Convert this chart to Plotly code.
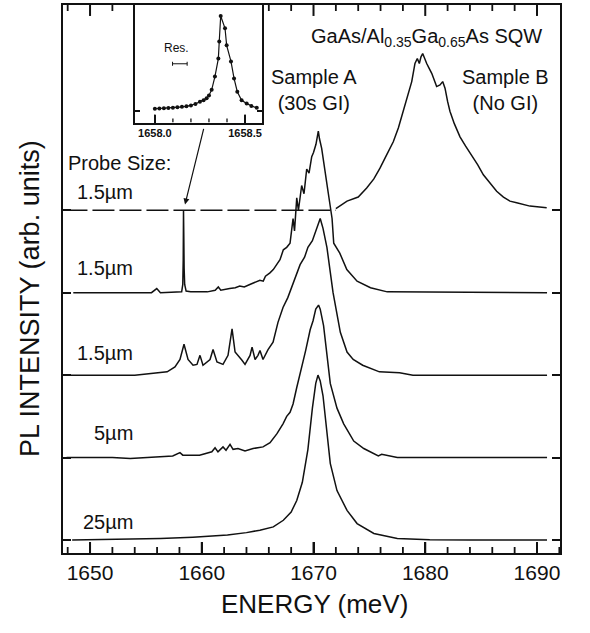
import plotly.graph_objects as go

FONT = "Liberation Sans, Arial, sans-serif"

# ---------------- data (energy in meV, intensity above each trace baseline, arb. units)
offsets = [0, 1, 2, 3, 4]
labels = ["25µm", "5µm", "1.5µm", "1.5µm", "1.5µm"]

e_25 = [1648.4, 1652.0, 1656.3, 1659.2, 1661.0, 1662.3, 1664.0, 1665.2, 1666.4, 1667.3, 1668.0,
        1668.5, 1669.0, 1669.5, 1669.9, 1670.2, 1670.4, 1670.6, 1670.85, 1671.1, 1671.5, 1672.1,
        1673.0, 1673.9, 1675.4, 1677.5, 1680.4, 1684.0, 1688.0, 1690.9]
h_25 = [0.0, 0.005, 0.02, 0.035, 0.045, 0.06, 0.09, 0.12, 0.16, 0.24, 0.34,
        0.48, 0.7, 1.1, 1.6, 1.9, 2.0, 1.93, 1.75, 1.4, 0.93, 0.6,
        0.36, 0.2, 0.08, 0.02, 0.005, 0.0, 0.0, 0.0]

e_5 = [1647.9, 1652.0, 1653.6, 1655.0, 1657.4, 1658.05, 1658.3, 1659.8, 1660.4, 1660.9, 1661.19,
       1661.45, 1661.9, 1662.17, 1662.53, 1662.8, 1663.24, 1663.87, 1664.59, 1665.48, 1666.11,
       1666.73, 1667.27, 1667.6, 1667.9, 1668.17, 1668.5, 1668.8, 1669.07, 1669.3, 1669.7, 1669.96,
       1670.2, 1670.45, 1670.6, 1670.9, 1671.2, 1671.5, 1672.1, 1672.7, 1673.6, 1674.5, 1675.8,
       1676.1, 1677.5, 1690.9]
h_5 = [0.0, 0.0, -0.012, 0.0, 0.02, 0.06, 0.03, 0.03, 0.05, 0.07, 0.12,
       0.07, 0.13, 0.09, 0.16, 0.1, 0.11, 0.08, 0.11, 0.13, 0.18,
       0.29, 0.41, 0.5, 0.55, 0.65, 0.85, 1.0, 1.17, 1.3, 1.55, 1.66,
       1.8, 1.85, 1.8, 1.6, 1.25, 0.9, 0.6, 0.41, 0.2, 0.11, 0.02,
       0.04, 0.0, 0.0]

e_15c = [1647.9, 1654.0, 1656.9, 1657.2, 1657.6, 1658.05, 1658.41, 1658.77, 1659.22, 1659.57,
         1659.84, 1660.11, 1660.74, 1661.01, 1661.36, 1661.9, 1662.35, 1662.71, 1662.98, 1663.6,
         1663.87, 1664.32, 1664.5, 1664.77, 1665.03, 1665.21, 1665.48, 1665.93, 1666.38, 1666.82,
         1667.27, 1667.7, 1668.17, 1668.5, 1668.8, 1669.2, 1669.5, 1669.9, 1670.2, 1670.6, 1670.85,
         1671.2, 1671.5, 1671.75, 1672.4, 1673.0, 1673.55, 1674.4, 1675.9, 1677.7, 1678.9, 1690.9]
h_15c = [0.0, 0.0, 0.04, 0.07, 0.1, 0.19, 0.375, 0.19, 0.12, 0.13,
         0.24, 0.12, 0.19, 0.31, 0.16, 0.13, 0.24, 0.56, 0.28, 0.18,
         0.13, 0.24, 0.34, 0.19, 0.24, 0.3, 0.19, 0.31, 0.4, 0.64,
         0.82, 0.94, 1.12, 1.22, 1.34, 1.43, 1.55, 1.63, 1.75, 1.9, 1.78,
         1.55, 1.25, 1.0, 0.52, 0.28, 0.19, 0.12, 0.04, 0.03, 0.0, 0.0]

e_15b = [1648.5, 1655.5, 1655.97, 1656.3, 1658.2, 1658.3, 1658.34, 1658.365, 1658.39, 1658.42,
         1658.47, 1658.6, 1659.0, 1660.5, 1661.2, 1661.48, 1661.7, 1662.5, 1663.0, 1663.4, 1663.8,
         1664.3, 1664.7, 1665.2, 1665.5, 1665.7, 1666.1, 1666.4, 1666.7, 1667.0, 1667.3, 1667.6,
         1667.9, 1668.17, 1668.3, 1668.5, 1668.65, 1668.94, 1669.15, 1669.39, 1669.6, 1669.84,
         1670.0, 1670.22, 1670.43, 1670.53, 1670.73, 1671.03, 1671.33, 1671.66, 1671.81, 1672.35,
         1672.98, 1673.9, 1675.1, 1676.6, 1690.9]
h_15b = [0.0, 0.0, 0.05, 0.0, 0.01, 0.1, 0.4, 0.99, 0.7, 0.3,
         0.1, 0.02, 0.01, 0.01, 0.03, 0.07, 0.03, 0.05, 0.06, 0.08, 0.07,
         0.1, 0.12, 0.15, 0.14, 0.2, 0.24, 0.28, 0.34, 0.4, 0.52, 0.55,
         0.6, 0.9, 0.75, 1.15, 1.0, 1.3, 1.2, 1.5, 1.45, 1.65,
         1.7, 1.8, 1.96, 1.87, 1.75, 1.5, 1.2, 0.9, 0.6, 0.48,
         0.28, 0.14, 0.06, 0.01, 0.0]

# Sample B (No GI), 1.5 µm probe: flat low-energy part and the broad peak
e_b_flat = [1647.8, 1672.0]
h_b_flat = [0.0, 0.0]
e_b = [1672.0, 1672.5, 1673.0, 1674.0, 1674.76, 1675.4, 1675.95, 1676.5, 1677.14, 1677.6, 1678.04,
       1678.4, 1678.79, 1679.08, 1679.29, 1679.47, 1679.62, 1679.77, 1679.95, 1680.13, 1680.35,
       1680.58, 1681.02, 1681.32, 1681.56, 1681.77, 1682.0, 1682.21, 1682.6, 1683.11, 1683.6,
       1684.16, 1684.7, 1685.2, 1685.8, 1686.39, 1687.0, 1687.58, 1688.18, 1689.37, 1690.87]
h_b = [0.02, 0.07, 0.11, 0.16, 0.27, 0.38, 0.51, 0.66, 0.83, 1.0, 1.2,
       1.38, 1.56, 1.78, 1.84, 1.78, 1.86, 1.9, 1.83, 1.78, 1.72,
       1.66, 1.5, 1.52, 1.56, 1.48, 1.32, 1.2, 1.05, 0.89, 0.78,
       0.67, 0.55, 0.43, 0.33, 0.23, 0.16, 0.11, 0.09, 0.05, 0.03]

# inset: high-resolution scan of the sharp line near 1658.37 meV
e_inset = [1658.0, 1658.025, 1658.05, 1658.075, 1658.1, 1658.125, 1658.15, 1658.175, 1658.2,
           1658.225, 1658.25, 1658.27, 1658.287, 1658.3, 1658.315, 1658.333, 1658.352, 1658.357,
           1658.365, 1658.389, 1658.398, 1658.422, 1658.439, 1658.457, 1658.481, 1658.509,
           1658.535, 1658.565]
h_inset = [0.02, 0.022, 0.025, 0.028, 0.031, 0.035, 0.04, 0.045, 0.055,
           0.07, 0.095, 0.11, 0.13, 0.16, 0.22, 0.36, 0.55, 0.73,
           1.0, 0.87, 0.69, 0.52, 0.34, 0.2, 0.11, 0.076,
           0.05, 0.03]
res_center = [1658.1385]
res_level = [0.495]
res_halfwidth = [0.0405]

x_ticks = [1650, 1660, 1670, 1680, 1690]
x_minor_ticks = [1648, 1652, 1654, 1656, 1658, 1662, 1664, 1666, 1668, 1672, 1674, 1676,
                 1678, 1682, 1684, 1686, 1688, 1692]
top_major_ticks = [1650, 1670, 1680, 1690]          # top edge, outside the inset
top_minor_ticks = [1648, 1652, 1666, 1668, 1672, 1674, 1676, 1678, 1682, 1684, 1686, 1688]
inset_ticks = [1658.0, 1658.5]
inset_ticktext = ["1658.0", "1658.5"]
inset_minor_ticks = [1658.1, 1658.2, 1658.3, 1658.4]

X_RANGE = [1647.58, 1692.06]
Y_RANGE = [-0.157, 6.489]
INSET_RANGE = [1657.89, 1658.594]
INSET_YRANGE = [-0.126, 1.116]

# ---------------- figure
fig = go.Figure()
INK = "#111111"
LINE = dict(color=INK, width=1.5)

series = [(e_25, h_25), (e_5, h_5), (e_15c, h_15c), (e_15b, h_15b)]
for (ex, hy), off in zip(series, offsets[:4]):
    fig.add_trace(go.Scatter(x=ex, y=[v + off for v in hy], mode="lines", line=LINE,
                             showlegend=False, hoverinfo="skip"))

fig.add_trace(go.Scatter(x=e_b_flat, y=[v + offsets[4] for v in h_b_flat], mode="lines",
                         line=dict(color=INK, width=1.4, dash="22px,5px"),
                         showlegend=False, hoverinfo="skip"))
fig.add_trace(go.Scatter(x=e_b, y=[v + offsets[4] for v in h_b], mode="lines", line=LINE,
                         showlegend=False, hoverinfo="skip"))

# inset trace
fig.add_trace(go.Scatter(x=e_inset, y=h_inset, mode="lines+markers", xaxis="x2", yaxis="y2",
                         line=dict(color=INK, width=1.2), marker=dict(color=INK, size=4),
                         showlegend=False, hoverinfo="skip"))
# resolution bar
fig.add_trace(go.Scatter(x=res_center, y=res_level, mode="markers", xaxis="x2", yaxis="y2",
                         marker=dict(size=0.1, color=INK),
                         error_x=dict(type="data", array=res_halfwidth, color=INK,
                                      thickness=1, width=2),
                         showlegend=False, hoverinfo="skip"))


def tick_marks(vals, y_edge, length_px, px_per_unit, upward, xaxis="x", yaxis="y", width=2):
    """Inward tick marks drawn as one-sided error bars from the frame edge."""
    n = len(vals)
    ln = length_px / px_per_unit
    err = dict(type="data", symmetric=False, color=INK, thickness=width, width=0,
               array=[ln if upward else 0] * n, arrayminus=[0 if upward else ln] * n)
    return go.Scatter(x=vals, y=[y_edge] * n, mode="markers", xaxis=xaxis, yaxis=yaxis,
                      marker=dict(size=0.1, color=INK), error_y=err,
                      showlegend=False, hoverinfo="skip", cliponaxis=False)


MAIN_PXU = 550.0 / (Y_RANGE[1] - Y_RANGE[0])
INSET_PXU = 0.2145 * 550.0 / (INSET_YRANGE[1] - INSET_YRANGE[0])
fig.add_trace(tick_marks(x_ticks, Y_RANGE[0], 11, MAIN_PXU, True))
fig.add_trace(tick_marks(x_minor_ticks, Y_RANGE[0], 6, MAIN_PXU, True, width=1.8))
fig.add_trace(tick_marks(top_major_ticks, Y_RANGE[1], 11, MAIN_PXU, False))
fig.add_trace(tick_marks(top_minor_ticks, Y_RANGE[1], 6, MAIN_PXU, False, width=1.8))
fig.add_trace(tick_marks(inset_ticks, INSET_YRANGE[0], 8, INSET_PXU, True, "x2", "y2", 1.6))
fig.add_trace(tick_marks(inset_minor_ticks, INSET_YRANGE[0], 4, INSET_PXU, True, "x2", "y2", 1.3))

axis_common = dict(showgrid=False, zeroline=False, showline=True, linecolor=INK,
                   tickcolor=INK)

fig.update_layout(
    width=590, height=633,
    margin=dict(l=63, r=30, t=3, b=80),
    paper_bgcolor="white", plot_bgcolor="white",
    font=dict(family=FONT, color=INK),
    xaxis=dict(**axis_common, range=X_RANGE, tickmode="array", tickvals=x_ticks,
               ticks="inside", ticklen=11, tickwidth=2, linewidth=2, mirror=True,
               tickfont=dict(size=21, family=FONT, color=INK)),
    yaxis=dict(**axis_common, range=Y_RANGE, tickmode="array", tickvals=offsets,
               showticklabels=False, ticks="inside", ticklen=8, tickwidth=2, linewidth=2,
               mirror="ticks"),
    xaxis2=dict(**axis_common, domain=[0.1449, 0.4004], anchor="y2",
                range=INSET_RANGE, tickmode="array", tickvals=inset_ticks,
                ticktext=["<b>%s</b>" % t for t in inset_ticktext],
                ticks="inside", ticklen=8, tickwidth=1.6, linewidth=1.5, mirror=True,
                tickfont=dict(size=11, family=FONT, color=INK)),
    yaxis2=dict(**axis_common, domain=[0.7855, 1.0], anchor="x2", range=INSET_YRANGE,
                tickmode="array", tickvals=[0], showticklabels=False, ticks="inside",
                ticklen=5, tickwidth=1.5, linewidth=1.5, mirror="ticks"),
)


def px2paper(px, py):
    return (px - 63) / 497.0, (553 - py) / 550.0


ann = []

def add_text(text, px, py, size=20, xanchor="center", **kw):
    x, y = px2paper(px, py)
    ann.append(dict(text=text, x=x, y=y, xref="paper", yref="paper", showarrow=False,
                    xanchor=xanchor, yanchor="middle",
                    font=dict(size=size, family=FONT, color=INK), **kw))

add_text("GaAs/Al<sub>0.35</sub>Ga<sub>0.65</sub>As SQW", 426, 36, size=20)
add_text("Sample A<br>(30s GI)", 314, 88.5)
add_text("Sample B<br>(No GI)", 505, 88.5)
add_text("Probe Size:", 66, 162, xanchor="left")
label_py = [522, 433, 352, 267, 191]
for lab, py in zip(labels, label_py):
    add_text(lab, 135, py, xanchor="right")
add_text("ENERGY (meV)", 314, 604, size=26)
add_text("PL INTENSITY (arb. units)", 30, 298, size=27, textangle=-90)

ann.append(dict(text="Res.", x=1658.12, y=0.66, xref="x2", yref="y2", showarrow=False,
                font=dict(size=12, family=FONT, color=INK)))
ann.append(dict(text="", x=1658.5, y=4.07, xref="x", yref="y", showarrow=True,
                ax=19, ay=-77, arrowhead=2, arrowsize=1, arrowwidth=1.2, arrowcolor=INK))

fig.update_layout(annotations=ann)
fig.write_html("out.html")
